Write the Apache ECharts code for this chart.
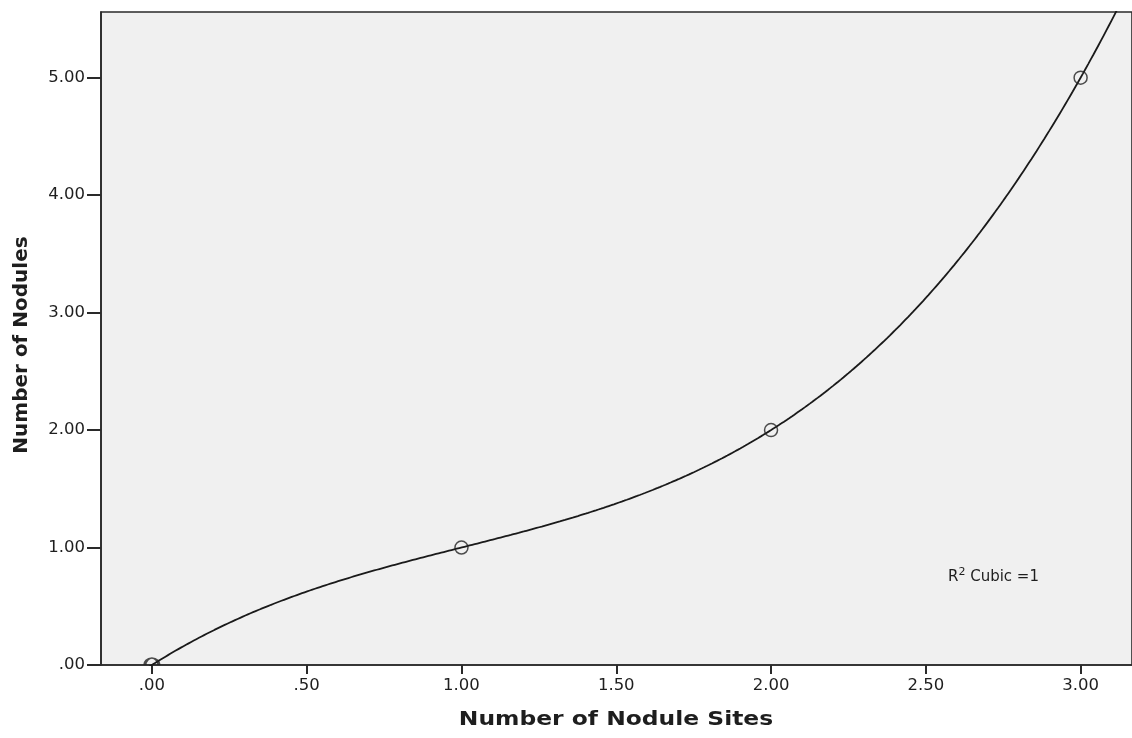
<!DOCTYPE html>
<html>
<head>
<meta charset="utf-8">
<style>
  html, body { margin: 0; padding: 0; background: #fff; }
  #chart { width: 1132px; height: 738px; }
</style>
<script src="https://cdn.jsdelivr.net/npm/echarts@6/dist/echarts.min.js"></script>
</head>
<body>
<div id="chart"></div>
<script>
// Observed values
const nodeSites = [0, 1, 2, 3];
const nodules = [0, 1, 2, 5];

// Axis tick positions
const xTicks = [0, 0.5, 1, 1.5, 2, 2.5, 3];
const yTicks = [0, 1, 2, 3, 4, 5];

// Least-squares cubic fit of nodules on node sites
function cubicFit(xs, ys) {
  const n = 4;
  const A = [];
  for (let i = 0; i < n; i++) {
    const row = [];
    for (let j = 0; j < n; j++) {
      let s = 0;
      xs.forEach(x => { s += Math.pow(x, i + j); });
      row.push(s);
    }
    let r = 0;
    xs.forEach((x, k) => { r += Math.pow(x, i) * ys[k]; });
    row.push(r);
    A.push(row);
  }
  for (let c = 0; c < n; c++) {
    let p = c;
    for (let r = c + 1; r < n; r++) if (Math.abs(A[r][c]) > Math.abs(A[p][c])) p = r;
    [A[c], A[p]] = [A[p], A[c]];
    for (let r = 0; r < n; r++) {
      if (r === c) continue;
      const f = A[r][c] / A[c][c];
      for (let k = c; k <= n; k++) A[r][k] -= f * A[c][k];
    }
  }
  return A.map((row, i) => row[n] / row[i]);
}

const coef = cubicFit(nodeSites, nodules);
const xMin = -0.1644, xMax = 3.166;
const yMin = 0, yMax = 5.559;

const fitLine = [];
for (let i = 0; i <= 400; i++) {
  const x = xMin + (xMax - xMin) * i / 400;
  const y = coef[0] + coef[1] * x + coef[2] * x * x + coef[3] * x * x * x;
  fitLine.push([x, y]);
}

function fmt(v) {
  const s = v.toFixed(2);
  return s.startsWith('0') ? s.slice(1) : s;
}

const textColor = '#1e1e1e';
const font = '"DejaVu Sans", Verdana, sans-serif';

// Points resting on the x axis are cut by the axis: draw only their upper arc
const halfArc = 'path://M0,10 A10,10 0 0,1 20,10';
const points = nodeSites.map((x, i) => {
  const item = { value: [x, nodules[i]] };
  if (nodules[i] === yMin) {
    item.symbol = halfArc;
    item.symbolSize = [14, 7];
    item.symbolOffset = [0, -3.5];
    item.itemStyle = { borderWidth: 2.4 };
  }
  return item;
});

const chart = echarts.init(document.getElementById('chart'), null, { renderer: 'canvas' });
chart.setOption({
  animation: false,
  backgroundColor: '#fff',
  grid: {
    left: 101, top: 12, right: -2, bottom: 73,
    show: true, backgroundColor: '#f0f0f0', borderColor: '#2a2a2a', borderWidth: 1.6
  },
  xAxis: {
    type: 'value', min: xMin, max: xMax,
    axisLine: { show: true, onZero: false, lineStyle: { color: '#2a2a2a', width: 1.6 } },
    axisTick: { show: true, length: 9, inside: false, customValues: xTicks, lineStyle: { color: '#2a2a2a', width: 2 } },
    axisLabel: { customValues: xTicks, formatter: fmt, color: textColor, fontFamily: font, fontSize: 16.5, margin: 12 },
    splitLine: { show: false }
  },
  yAxis: {
    type: 'value', min: yMin, max: yMax,
    axisLine: { show: true, onZero: false, lineStyle: { color: '#2a2a2a', width: 1.6 } },
    axisTick: { show: true, length: 14, inside: false, customValues: yTicks, lineStyle: { color: '#2a2a2a', width: 2 } },
    axisLabel: { customValues: yTicks, formatter: fmt, color: textColor, fontFamily: font, fontSize: 16.5, margin: 16 },
    splitLine: { show: false }
  },
  graphic: [
    {
      type: 'text', x: 616, y: 720, scaleX: 1.17,
      style: { text: 'Number of Nodule Sites', fill: textColor, font: 'bold 20px ' + font, align: 'center', verticalAlign: 'middle' }
    },
    {
      type: 'text', x: 22, y: 345, rotation: Math.PI / 2,
      style: { text: 'Number of Nodules', fill: textColor, font: 'bold 20px ' + font, align: 'center', verticalAlign: 'middle' }
    },
    {
      type: 'text', x: 948, y: 567,
      style: {
        text: '{b|R}{s|2}{b| Cubic =1}',
        rich: {
          b: { fill: textColor, fontFamily: font, fontSize: 15, verticalAlign: 'bottom', lineHeight: 18 },
          s: { fill: textColor, fontFamily: font, fontSize: 11, verticalAlign: 'top', lineHeight: 18 }
        }
      }
    }
  ],
  series: [
    {
      type: 'line', data: fitLine, showSymbol: false, clip: true, silent: true,
      lineStyle: { color: '#1a1a1a', width: 1.8 }, z: 2
    },
    {
      type: 'scatter', data: points,
      symbol: 'circle', symbolSize: 13, clip: false,
      itemStyle: { color: 'rgba(0,0,0,0)', borderColor: '#222', borderWidth: 1.5 }, z: 3
    }
  ]
});
</script>
</body>
</html>
